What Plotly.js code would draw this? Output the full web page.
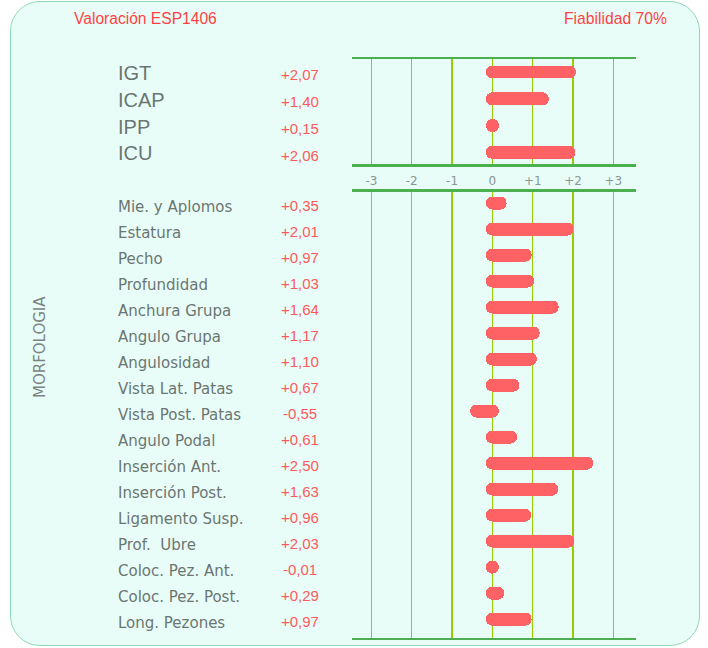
<!DOCTYPE html>
<html><head><meta charset="utf-8">
<script src="https://cdn.plot.ly/plotly-3.0.1.min.js"></script>
<style>
html,body{margin:0;padding:0;background:#ffffff;}
#wrap{position:relative;width:708px;height:648px;overflow:hidden;}
#box{position:absolute;left:10px;top:1px;width:688px;height:643px;border:1.5px solid #8fd9b6;border-radius:30px;background:#e9fdf8;}
#chart{position:absolute;left:0;top:0;width:708px;height:648px;}
</style></head>
<body><div id="wrap"><div id="box"></div><div id="chart"></div></div>
<script>
const indexLabels = ["IGT","ICAP","IPP","ICU"];
const indexValues = [2.07,1.40,0.15,2.06];
const morphLabels = ["Mie. y Aplomos","Estatura","Pecho","Profundidad","Anchura Grupa","Angulo Grupa","Angulosidad","Vista Lat. Patas","Vista Post. Patas","Angulo Podal","Inserción Ant.","Inserción Post.","Ligamento Susp.","Prof.  Ubre","Coloc. Pez. Ant.","Coloc. Pez. Post.","Long. Pezones"];
const morphValues = [0.35,2.01,0.97,1.03,1.64,1.17,1.10,0.67,-0.55,0.61,2.50,1.63,0.96,2.03,-0.01,0.29,0.97];
const tickVals = [-3,-2,-1,0,1,2,3];
const tickText = ["-3","-2","-1","0","+1","+2","+3"];
const titleLeft = "Valoración ESP1406";
const titleRight = "Fiabilidad 70%";
const sectionLabel = "MORFOLOGIA";

const W = 708, H = 648;
const CAP = 0.16; // rounded cap extension past zero (data units)
function spans(vals){
  const base = [], len = [];
  vals.forEach(v => {
    let a, b;
    if (v >= 0) { a = -CAP; b = Math.max(v, CAP); }
    else { a = Math.min(v, -CAP); b = CAP; }
    base.push(a); len.push(b - a);
  });
  return {base, len};
}
function fmt(v){ return (v < 0 ? '-' : '+') + Math.abs(v).toFixed(2).replace('.', ','); }

const s1 = spans(indexValues), s2 = spans(morphValues);
const barColor = '#ff6264';
const traces = [
  {type:'bar', orientation:'h', y: indexLabels.map((_,i)=>i), x: s1.len, base: s1.base,
   xaxis:'x', yaxis:'y', width:0.48, marker:{color:barColor, cornerradius:7, line:{width:0}}, hoverinfo:'skip'},
  {type:'bar', orientation:'h', y: morphLabels.map((_,i)=>i), x: s2.len, base: s2.base,
   xaxis:'x2', yaxis:'y2', width:0.5, marker:{color:barColor, cornerradius:7, line:{width:0}}, hoverinfo:'skip'}
];

const xr = [-3.48, 3.56];
const xDom = [352/W, 636/W];
const gridC = '#99cc00', lineC = '#4caf50';
const axX = {
  domain: xDom, range: xr, tickvals: tickVals, ticktext: tickText,
  showgrid:true, gridcolor:gridC, gridwidth:1.2, zeroline:false,
  showline:true, mirror:true, linecolor:lineC, linewidth:2.5,
  ticks:'', tickfont:{family:'DejaVu Sans, sans-serif', size:12, color:'#8a9692'}, fixedrange:true
};
const layout = {
  width: W, height: H, margin:{l:0,r:0,t:0,b:0},
  paper_bgcolor:'rgba(0,0,0,0)', plot_bgcolor:'rgba(0,0,0,0)',
  showlegend:false, bargap:0,
  xaxis: Object.assign({}, axX, {anchor:'y', ticklabelstandoff:4}),
  xaxis2: Object.assign({}, axX, {anchor:'y2', showticklabels:false}),
  yaxis: {domain:[(H-164)/H, (H-59)/H], range:[3.435,-0.485], showticklabels:false, showgrid:false, zeroline:false, showline:false, ticks:'', anchor:'x', fixedrange:true},
  yaxis2: {domain:[(H-637.7)/H, (H-191.7)/H], range:[16.715,-0.435], showticklabels:false, showgrid:false, zeroline:false, showline:false, ticks:'', anchor:'x2', fixedrange:true},
  annotations: []
};
const A = layout.annotations;
const gray = '#6b7672', red = '#ff5a5a';
indexLabels.forEach((t,i)=>{
  A.push({text:t, xref:'paper', yref:'y', x:116/W, y:i, xanchor:'left', yanchor:'middle', showarrow:false, yshift:-1,
    font:{family:'Liberation Sans, Arial, sans-serif', size:20, color:gray}});
  A.push({text:fmt(indexValues[i]), xref:'paper', yref:'y', x:300/W, y:i, xanchor:'center', yanchor:'middle', showarrow:false, yshift:-3,
    font:{family:'Liberation Sans, Arial, sans-serif', size:15, color:red}});
});
morphLabels.forEach((t,i)=>{
  A.push({text:t, xref:'paper', yref:'y2', x:116/W, y:i, xanchor:'left', yanchor:'middle', showarrow:false, yshift:-4,
    font:{family:'DejaVu Sans, sans-serif', size:15, color:gray}});
  A.push({text:fmt(morphValues[i]), xref:'paper', yref:'y2', x:300/W, y:i, xanchor:'center', yanchor:'middle', showarrow:false, yshift:-2,
    font:{family:'Liberation Sans, Arial, sans-serif', size:15, color:red}});
});
A.push({text:titleLeft, xref:'paper', yref:'paper', x:72/W, y:1-18/H, xanchor:'left', yanchor:'middle', showarrow:false,
  font:{family:'Liberation Sans, Arial, sans-serif', size:15.6, color:'#ff4242'}});
A.push({text:titleRight, xref:'paper', yref:'paper', x:669/W, y:1-18/H, xanchor:'right', yanchor:'middle', showarrow:false,
  font:{family:'Liberation Sans, Arial, sans-serif', size:15.7, color:'#ff4242'}});
A.push({text:sectionLabel, xref:'paper', yref:'paper', x:40/W, y:1-347/H, xanchor:'center', yanchor:'middle', showarrow:false, textangle:-90,
  font:{family:'DejaVu Sans, sans-serif', size:15, color:'#7a8582'}});

Plotly.newPlot('chart', traces, layout, {displayModeBar:false, staticPlot:true});
</script></body></html>
